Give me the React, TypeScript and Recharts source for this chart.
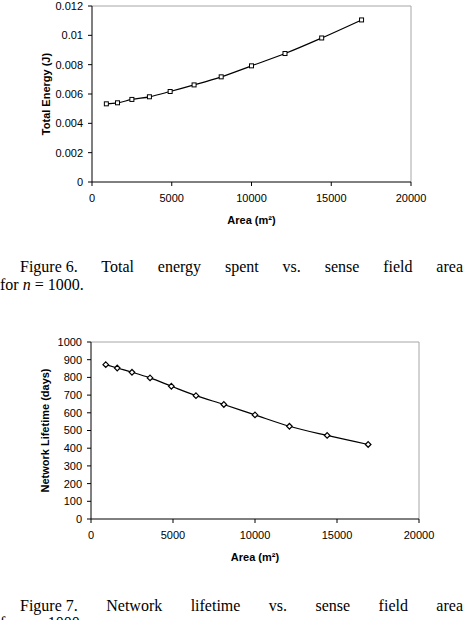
import React from 'react';
import { LineChart, Line, XAxis, YAxis, ReferenceLine, Label } from 'recharts';

// Sense field area (m²) for each simulated deployment
const areas = [900, 1600, 2500, 3600, 4900, 6400, 8100, 10000, 12100, 14400, 16900];
// Total energy spent (J), n = 1000
const totalEnergy = [0.00533, 0.0054, 0.00563, 0.00581, 0.00617, 0.00662, 0.00717, 0.00792, 0.00876, 0.00982, 0.01105];
// Network lifetime (days), n = 1000
const lifetimeDays = [872, 853, 829, 797, 750, 697, 647, 588, 524, 472, 421];

const areaTicks = [0, 5000, 10000, 15000, 20000];
const energyTicks = [0, 0.002, 0.004, 0.006, 0.008, 0.01, 0.012];
const lifetimeTicks = [0, 100, 200, 300, 400, 500, 600, 700, 800, 900, 1000];

const energyData = areas.map((area, i) => ({ area, energy: totalEnergy[i] }));
const lifetimeData = areas.map((area, i) => ({ area, lifetime: lifetimeDays[i] }));

const SANS = '"Liberation Sans", Arial, sans-serif';
const SERIF = '"Liberation Serif", "Times New Roman", serif';
const tickStyle = { fill: '#000', fontSize: 11, fontFamily: SANS };
const BORDER = '#a6a6a6';

const SquareDot = (props: any) => {
  const { cx, cy, index } = props;
  if (cx == null || cy == null) return <g key={`s-${index}`} />;
  return (
    <rect key={`s-${index}`} x={cx - 2} y={cy - 2} width={4} height={4} fill="#fff" stroke="#000" strokeWidth={1} />
  );
};

const DiamondDot = (props: any) => {
  const { cx, cy, index } = props;
  if (cx == null || cy == null) return <g key={`d-${index}`} />;
  const r = 2.8;
  return (
    <polygon
      key={`d-${index}`}
      points={`${cx},${cy - r} ${cx + r},${cy} ${cx},${cy + r} ${cx - r},${cy}`}
      fill="#fff"
      stroke="#000"
      strokeWidth={1.2}
    />
  );
};

const captionLine: React.CSSProperties = {
  position: 'absolute',
  fontFamily: SERIF,
  fontSize: 16,
  lineHeight: '18px',
  color: '#000',
  whiteSpace: 'nowrap',
};

const justifiedLine: React.CSSProperties = {
  ...captionLine,
  whiteSpace: 'normal',
  textAlign: 'justify',
  textAlignLast: 'justify',
};

const keepTogether: React.CSSProperties = { display: 'inline-block' };

export default function App() {
  return (
    <div
      style={{
        position: 'absolute',
        left: 0,
        top: 0,
        width: 468,
        height: 620,
        overflow: 'hidden',
        background: '#fff',
      }}
    >
      <div style={{ position: 'absolute', left: 0, top: 0 }}>
        <LineChart width={468} height={232} data={energyData} margin={{ top: 6, right: 57, bottom: 0, left: 0 }}>
          <XAxis
            type="number"
            dataKey="area"
            domain={[0, 20000]}
            ticks={areaTicks}
            interval={0}
            stroke="#000"
            tick={tickStyle}
            tickSize={4}
            tickMargin={8}
            height={50}
          >
            <Label value="Area (m²)" position="insideBottom" offset={8} fill="#000" fontWeight="bold" fontSize={11} fontFamily={SANS} />
          </XAxis>
          <YAxis
            type="number"
            domain={[0, 0.012]}
            ticks={energyTicks}
            interval={0}
            stroke="#000"
            tick={tickStyle}
            tickSize={4}
            tickMargin={5}
            width={92}
          >
            <Label value="Total Energy (J)" angle={-90} position="center" fill="#000" fontWeight="bold" fontSize={11} fontFamily={SANS} />
          </YAxis>
          <ReferenceLine y={0.012} stroke={BORDER} />
          <ReferenceLine x={20000} stroke={BORDER} />
          <Line
            type="monotone"
            dataKey="energy"
            stroke="#000"
            strokeWidth={1.2}
            dot={SquareDot}
            activeDot={false}
            isAnimationActive={false}
          />
        </LineChart>
      </div>

      <div style={{ ...justifiedLine, left: 20, top: 258, width: 443 }}>
        <span style={keepTogether}>Figure 6.</span> Total energy spent vs. sense field area
      </div>
      <div style={{ ...captionLine, left: 0, top: 276 }}>
        for <i>n</i> = 1000.
      </div>

      <div style={{ position: 'absolute', left: 0, top: 330 }}>
        <LineChart width={468} height={240} data={lifetimeData} margin={{ top: 12, right: 49, bottom: 0, left: 0 }}>
          <XAxis
            type="number"
            dataKey="area"
            domain={[0, 20000]}
            ticks={areaTicks}
            interval={0}
            stroke="#000"
            tick={tickStyle}
            tickSize={4}
            tickMargin={8}
            height={51}
          >
            <Label value="Area (m²)" position="insideBottom" offset={9} fill="#000" fontWeight="bold" fontSize={11} fontFamily={SANS} />
          </XAxis>
          <YAxis
            type="number"
            domain={[0, 1000]}
            ticks={lifetimeTicks}
            interval={0}
            stroke="#000"
            tick={tickStyle}
            tickSize={4}
            tickMargin={5}
            width={91}
          >
            <Label value="Network Lifetime (days)" angle={-90} position="center" fill="#000" fontWeight="bold" fontSize={11} fontFamily={SANS} />
          </YAxis>
          <ReferenceLine y={1000} stroke={BORDER} />
          <ReferenceLine x={20000} stroke={BORDER} />
          <Line
            type="monotone"
            dataKey="lifetime"
            stroke="#000"
            strokeWidth={1.2}
            dot={DiamondDot}
            activeDot={false}
            isAnimationActive={false}
          />
        </LineChart>
      </div>

      <div style={{ ...justifiedLine, left: 20, top: 597, width: 443 }}>
        <span style={keepTogether}>Figure 7.</span> Network lifetime vs. sense field area
      </div>
      <div style={{ ...captionLine, left: 0, top: 614 }}>
        for <i>n</i> = 1000.
      </div>
    </div>
  );
}
